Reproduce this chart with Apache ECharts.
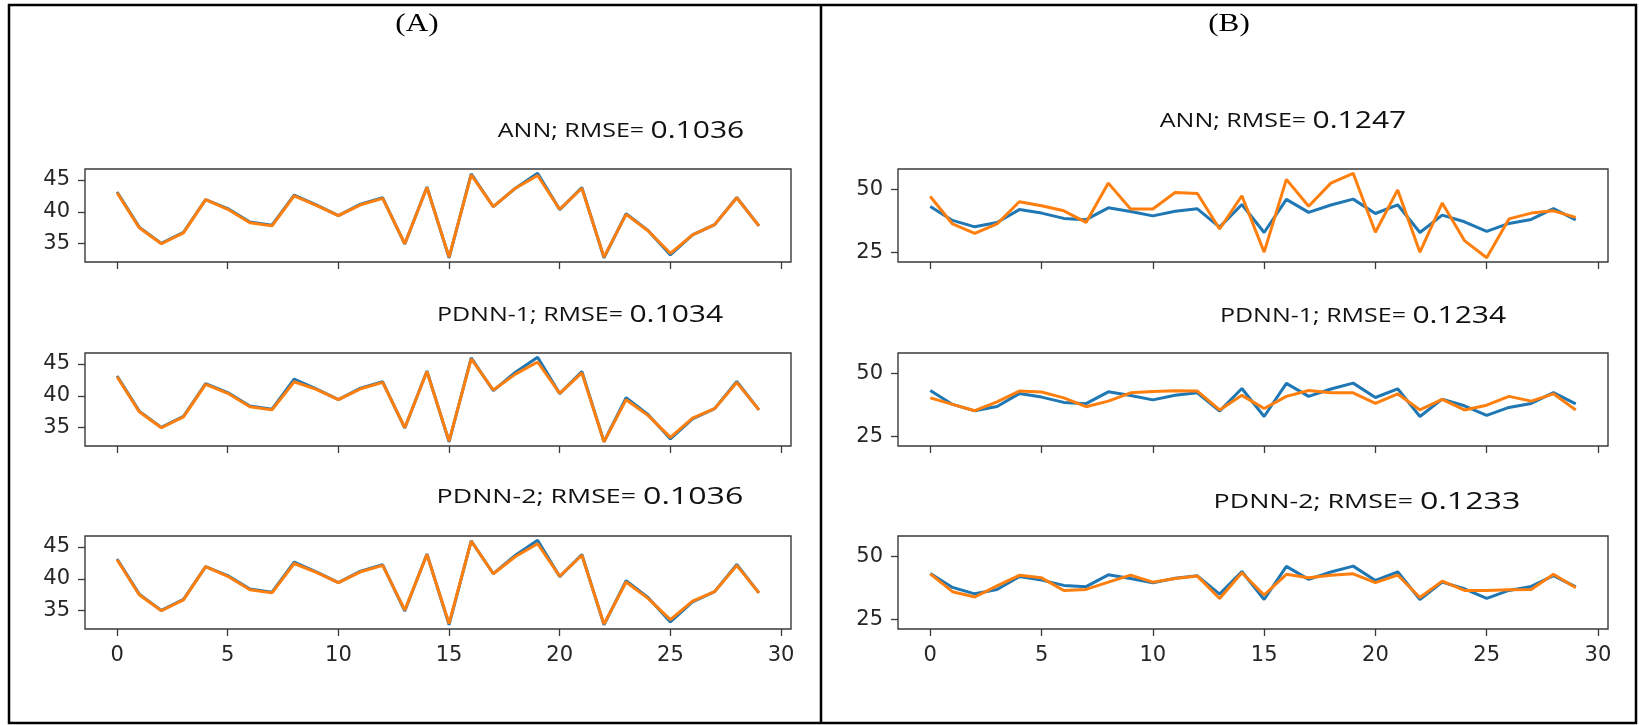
<!DOCTYPE html>
<html>
<head>
<meta charset="utf-8">
<script src="https://cdn.jsdelivr.net/npm/echarts@6/dist/echarts.min.js"></script>
<style>
  html, body { margin: 0; padding: 0; background: #fff; }
  #chart { width: 1639px; height: 725px; }
</style>
</head>
<body>
<div id="chart"></div>
<script>
// x positions (sample index)
const xIdx = [0, 1, 2, 3, 4, 5, 6, 7, 8, 9, 10, 11, 12, 13, 14, 15, 16, 17, 18, 19, 20, 21, 22, 23, 24, 25, 26, 27, 28, 29]

// measured series (blue) — same in every panel
const actual = [43.1, 37.6, 35.05, 36.8, 41.9, 40.5, 38.4, 37.9, 42.6, 41.1, 39.4, 41.2, 42.2, 34.95, 43.9, 32.8, 45.95, 40.8, 43.7, 46.05, 40.35, 43.8, 32.8, 39.7, 37.05, 33.25, 36.4, 38.0, 42.25, 37.8]

// (A) predictions
const annA = [43.0, 37.5, 35.0, 36.7, 41.9, 40.4, 38.3, 37.8, 42.5, 41.0, 39.4, 41.1, 42.1, 35.0, 43.8, 32.9, 45.8, 40.8, 43.7, 45.7, 40.4, 43.7, 32.9, 39.6, 37.0, 33.5, 36.4, 38.0, 42.2, 37.8]
const pdnn1A = [43.0, 37.5, 35.0, 36.7, 41.8, 40.4, 38.3, 37.8, 42.2, 41.0, 39.4, 41.1, 42.1, 35.0, 43.8, 32.9, 45.8, 40.9, 43.4, 45.3, 40.4, 43.6, 32.8, 39.4, 36.9, 33.5, 36.5, 38.0, 42.1, 37.8]
const pdnn2A = [43.0, 37.5, 35.0, 36.7, 41.9, 40.4, 38.3, 37.8, 42.4, 41.0, 39.4, 41.1, 42.1, 35.1, 43.8, 33.0, 45.9, 40.8, 43.5, 45.5, 40.4, 43.7, 32.9, 39.5, 36.9, 33.6, 36.5, 38.0, 42.1, 37.8]

// (B) predictions
const annB = [47.1, 36.2, 32.5, 36.2, 45.0, 43.4, 41.4, 36.8, 52.4, 42.1, 42.1, 48.7, 48.3, 34.2, 47.4, 25.0, 53.9, 43.2, 52.4, 56.3, 32.9, 49.7, 25.0, 44.5, 29.6, 22.8, 38.2, 40.5, 41.4, 38.8]
const pdnn1B = [40.2, 37.6, 35.1, 38.6, 42.9, 42.5, 40.2, 36.7, 38.9, 42.2, 42.7, 43.0, 42.9, 35.4, 41.2, 36.0, 40.8, 43.1, 42.2, 42.2, 38.0, 41.8, 35.4, 39.6, 35.4, 37.3, 40.8, 38.9, 41.8, 35.4]
const pdnn2B = [43.0, 35.9, 33.8, 38.2, 42.4, 41.4, 36.4, 36.8, 39.7, 42.5, 39.7, 41.1, 42.1, 33.2, 43.4, 34.6, 42.8, 41.4, 42.4, 43.0, 39.5, 42.5, 33.6, 40.1, 36.4, 36.4, 36.7, 36.8, 42.8, 37.5]

const panelTitles = ['(A)', '(B)']
const modelNames = ['ANN; RMSE= ', 'PDNN-1; RMSE= ', 'PDNN-2; RMSE= ']
const rmseA = ['0.1036', '0.1034', '0.1036']
const rmseB = ['0.1247', '0.1234', '0.1233']

const xTicks = [0, 5, 10, 15, 20, 25, 30]
const yTicksA = [35, 40, 45]
const yTicksB = [25, 50]

const BLUE = '#1f77b4'
const ORANGE = '#ff7f0e'
const INK = '#262626'
const FRAME = '#3a3a3a'

const pairs = (ys) => xIdx.map((x, i) => [x, ys[i]])

const rowTops = [169, 353, 536]
const rowH = 93
const cols = [
  { left: 85, width: 706, yMin: 32.14, yMax: 46.71, ticks: yTicksA, preds: [annA, pdnn1A, pdnn2A] },
  { left: 898, width: 710, yMin: 21.1, yMax: 58.0, ticks: yTicksB, preds: [annB, pdnn1B, pdnn2B] },
]

const grid = []
const xAxis = []
const yAxis = []
const series = []

cols.forEach((c, ci) => {
  rowTops.forEach((top, ri) => {
    const k = grid.length
    grid.push({
      left: c.left, top: top, width: c.width, height: rowH,
      show: true, borderColor: FRAME, borderWidth: 1.4, backgroundColor: 'transparent',
    })
    xAxis.push({
      type: 'value', gridIndex: k, min: -1.45, max: 30.45, position: 'bottom',
      axisLine: { show: false, onZero: false },
      splitLine: { show: false },
      axisTick: { show: true, length: 7, lineStyle: { color: FRAME, width: 1.3 }, customValues: xTicks },
      axisLabel: {
        show: ri === 2, customValues: xTicks, margin: 16,
        fontFamily: 'DejaVu Sans', fontSize: 21, color: INK,
      },
    })
    yAxis.push({
      type: 'value', gridIndex: k, min: c.yMin, max: c.yMax, position: 'left',
      axisLine: { show: false, onZero: false },
      splitLine: { show: false },
      axisTick: { show: true, length: 7, lineStyle: { color: FRAME, width: 1.3 }, customValues: c.ticks },
      axisLabel: {
        customValues: c.ticks, margin: 15,
        fontFamily: 'DejaVu Sans', fontSize: 21, color: INK,
      },
    })
    series.push({
      type: 'line', xAxisIndex: k, yAxisIndex: k, data: pairs(actual),
      showSymbol: false, symbol: 'none', lineStyle: { color: BLUE, width: 3 }, z: 2,
    })
    series.push({
      type: 'line', xAxisIndex: k, yAxisIndex: k, data: pairs(c.preds[ri]),
      showSymbol: false, symbol: 'none', lineStyle: { color: ORANGE, width: 3 }, z: 3,
    })
  })
})

// label anchors (centre x, centre y)
const titlePosA = [[621, 131], [580, 315], [590, 497]]
const titlePosB = [[1283, 121], [1363, 316], [1367, 502]]

const labelText = (name, val, pos, sx) => ({
  type: 'text', x: pos[0], y: pos[1], scaleX: sx,
  style: {
    text: `{a|${name}}{b|${val}}`,
    align: 'center', verticalAlign: 'middle',
    rich: {
      a: { fontFamily: 'Open Sans', fontSize: 20, fill: '#111' },
      b: { fontFamily: 'Open Sans', fontSize: 24, fill: '#111' },
    },
  },
})

const graphic = [
  { type: 'rect', shape: { x: 9, y: 5, width: 1627, height: 718 }, style: { fill: 'none', stroke: '#000', lineWidth: 2.5 } },
  { type: 'line', shape: { x1: 821, y1: 5, x2: 821, y2: 723 }, style: { stroke: '#000', lineWidth: 2.5 } },
  {
    type: 'text', x: 417, y: 24, scaleX: 1.2,
    style: { text: panelTitles[0], align: 'center', verticalAlign: 'middle', fontFamily: 'Liberation Serif', fontSize: 26, fill: '#000' },
  },
  {
    type: 'text', x: 1229, y: 24, scaleX: 1.2,
    style: { text: panelTitles[1], align: 'center', verticalAlign: 'middle', fontFamily: 'Liberation Serif', fontSize: 26, fill: '#000' },
  },
  ...modelNames.map((n, i) => labelText(n, rmseA[i], titlePosA[i], i === 2 ? 1.34 : 1.25)),
  ...modelNames.map((n, i) => labelText(n, rmseB[i], titlePosB[i], i === 2 ? 1.34 : 1.25)),
]

const chart = echarts.init(document.getElementById('chart'), null, { renderer: 'canvas' })
chart.setOption({
  animation: false,
  backgroundColor: '#fff',
  grid, xAxis, yAxis, series, graphic,
})
</script>
</body>
</html>
